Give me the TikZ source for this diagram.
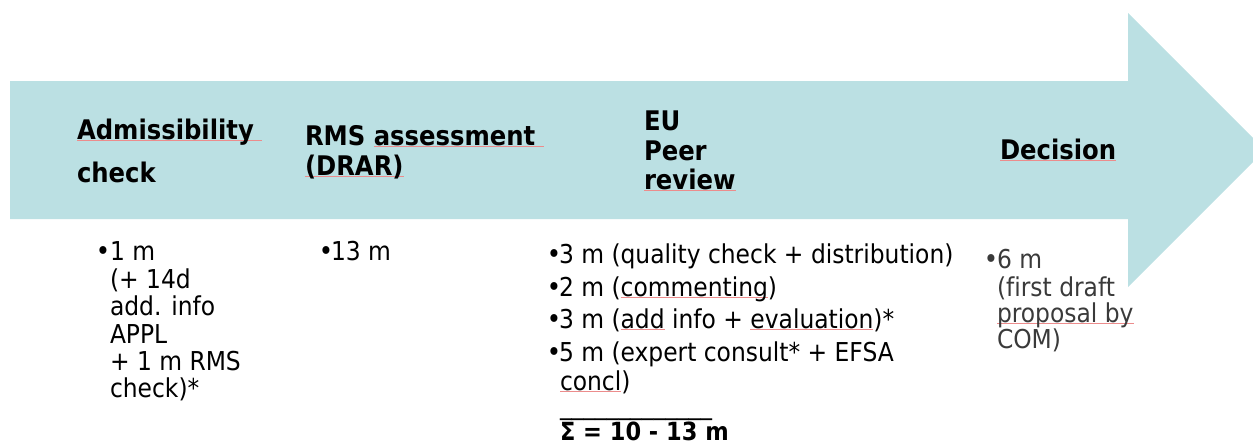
\documentclass[tikz,border=0pt]{standalone}
\usepackage{fontspec}
\newfontfamily\condsans[Ligatures=NoCommon]{DejaVu Sans Condensed}
\definecolor{arrowfill}{RGB}{187,224,227}
\definecolor{spellmark}{RGB}{236,140,140}
\definecolor{softblack}{RGB}{58,58,58}
% spell-check style mark under a word
\newlength\spellwd
\newcommand\spellword[1]{\settowidth\spellwd{#1}%
  \rlap{\begingroup\color{spellmark}\rule[-2.2pt]{\spellwd}{1pt}\endgroup}#1}
\begin{document}
\begin{tikzpicture}[x=1pt,y=-1pt,
  hdr/.style={font={\condsans\bfseries\fontsize{27}{32}\selectfont}, anchor=base west, inner sep=0pt, outer sep=0pt},
  txt/.style={font={\condsans\fontsize{26}{30}\selectfont}, anchor=base west, inner sep=0pt, outer sep=0pt},
  bul/.style={font={\condsans\fontsize{27}{30}\selectfont}, anchor=base, inner sep=0pt, outer sep=0pt},
  sumtxt/.style={font={\condsans\bfseries\fontsize{25}{30}\selectfont}, anchor=base west, inner sep=0pt, outer sep=0pt},
]
\useasboundingbox (0,0) rectangle (1253,445);
\clip (0,0) rectangle (1253,445);

% process arrow
\fill[arrowfill] (10,81) -- (1128,81) -- (1128,13) -- (1265,150)
  -- (1128,287) -- (1128,219) -- (10,219) -- cycle;

% phase titles
\node[hdr] (adm1) at (77,139) {\spellword{Admissibility\ }};
\node[hdr] (adm2) at (77,182) {check};
\node[hdr] (rms1) at (305,145) {RMS \spellword{assessment\ }};
\node[hdr] (rms2) at (305,175) {\spellword{(DRAR)}};
\node[hdr] (eu1) at (644,130) {EU};
\node[hdr] (eu2) at (644,160) {Peer};
\node[hdr] (eu3) at (644,189) {\spellword{review}};
\node[hdr] (dec) at (1000,159) {\spellword{Decision}};

% admissibility check durations
\node[bul] (ab) at (103,260) {•};
\node[txt] (a1) at (110,260) {1 m};
\node[txt] (a2) at (110,288) {(+ 14d};
\node[txt] (a3) at (110,315) {add. info};
\node[txt] (a4) at (110,343) {APPL};
\node[txt] (a5) at (110,370) {+ 1 m RMS};
\node[txt] (a6) at (110,397) {check)*};

% RMS assessment duration
\node[bul] (rb) at (326,260) {•};
\node[txt] (r1) at (331,260) {13 m};

% peer review durations
\node[bul] (pb1) at (554,263) {•};
\node[txt] (p1) at (559,263) {3 m (quality check + distribution)};
\node[bul] (pb2) at (554,296) {•};
\node[txt] (p2) at (559,296) {2 m (\spellword{commenting})};
\node[bul] (pb3) at (554,328) {•};
\node[txt] (p3) at (559,328) {3 m (\spellword{add} info + \spellword{evaluation})*};
\node[bul] (pb4) at (554,361) {•};
\node[txt] (p4) at (559,361) {5 m (expert consult* + EFSA};
\node[txt] (p5) at (560,390) {\spellword{concl})};
\node[txt] (psep) at (560,414) {\_\_\_\_\_\_\_\_\_\_\_\_\_};
\node[sumtxt] (psum) at (560,440) {Σ = 10 - 13 m};

% decision durations
\node[bul, text=softblack] (db) at (991,268) {•};
\node[txt, text=softblack] (d1) at (997,268) {6 m};
\node[txt, text=softblack] (d2) at (997,296) {(first draft};
\node[txt, text=softblack] (d3) at (997,322) {\spellword{proposal by}};
\node[txt, text=softblack] (d4) at (997,348) {COM)};
\end{tikzpicture}
\end{document}
